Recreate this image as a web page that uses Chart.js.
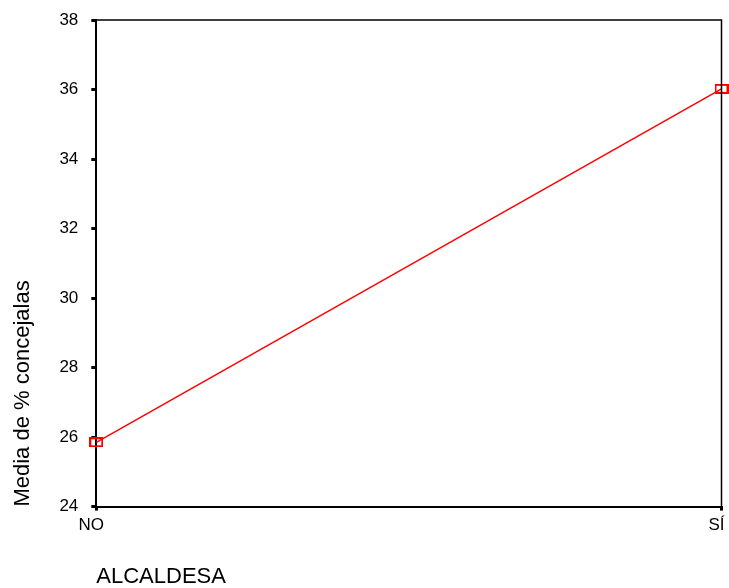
<!DOCTYPE html>
<html>
<head>
<meta charset="utf-8">
<script src="https://cdn.jsdelivr.net/npm/chart.js@4/dist/chart.umd.min.js"></script>
<style>
html,body{margin:0;padding:0;background:#fff;}
#c{display:block;}
</style>
</head>
<body>
<canvas id="c" width="729" height="588"></canvas>
<script>
const categories = ['NO', 'SÍ'];
const meanValues = [25.85, 36.02];
const yTicks = [24, 26, 28, 30, 32, 34, 36, 38];

const marker = document.createElement('canvas');
marker.width = 14; marker.height = 10;
(function(){
  const m = marker.getContext('2d');
  m.strokeStyle = '#ff0000';
  m.lineWidth = 2;
  m.strokeRect(1, 1, 12, 8);
})();

const borderPlugin = {
  id: 'frame',
  afterDatasetsDraw(chart) {
    const {ctx, chartArea: a} = chart;
    ctx.save();
    ctx.strokeStyle = '#000';
    ctx.lineWidth = 1.5;
    ctx.beginPath();
    ctx.moveTo(a.left, a.top);
    ctx.lineTo(a.right, a.top);
    ctx.lineTo(a.right, a.bottom);
    ctx.stroke();
    ctx.restore();
  }
};

const FONT = 'Liberation Sans, Arial, sans-serif';

new Chart(document.getElementById('c'), {
  type: 'line',
  data: {
    labels: categories,
    datasets: [{
      data: meanValues,
      borderColor: '#ff0000',
      borderWidth: 1.5,
      pointStyle: marker,
      pointRadius: 6,
      pointHoverRadius: 6,
      fill: false,
      tension: 0,
      clip: false
    }]
  },
  options: {
    responsive: false,
    animation: false,
    events: [],
    layout: {padding: {top: 20, right: 2, left: 10, bottom: 0}},
    plugins: {legend: {display: false}, tooltip: {enabled: false}},
    scales: {
      x: {
        type: 'category',
        offset: false,
        afterFit(scale) { scale.paddingLeft = 0; scale.paddingRight = 0; },
        border: {display: true, color: '#000', width: 2},
        grid: {display: true, drawOnChartArea: false, drawTicks: true, tickLength: 4, color: '#000', lineWidth: 3},
        ticks: {color: '#000', font: {family: FONT, size: 17}, padding: 5, maxRotation: 0, labelOffset: -5, autoSkip: false},
        title: {display: true, text: 'ALCALDESA', align: 'start', color: '#000',
                font: {family: FONT, size: 22, lineHeight: 1}, padding: {top: 25, bottom: 0}}
      },
      y: {
        min: 24, max: 38,
        afterFit(scale) { scale.paddingTop = 0; scale.paddingBottom = 0; },
        afterBuildTicks(scale) { scale.ticks = yTicks.map(v => ({value: v})); },
        border: {display: true, color: '#000', width: 2},
        grid: {display: true, drawOnChartArea: false, drawTicks: true, tickLength: 5, color: '#000', lineWidth: 3},
        ticks: {color: '#000', font: {family: FONT, size: 17}, padding: 13},
        title: {display: true, text: 'Media de % concejalas', align: 'start', color: '#000',
                font: {family: FONT, size: 22}, padding: {top: 0, bottom: 10}}
      }
    }
  },
  plugins: [borderPlugin]
});
</script>
</body>
</html>
